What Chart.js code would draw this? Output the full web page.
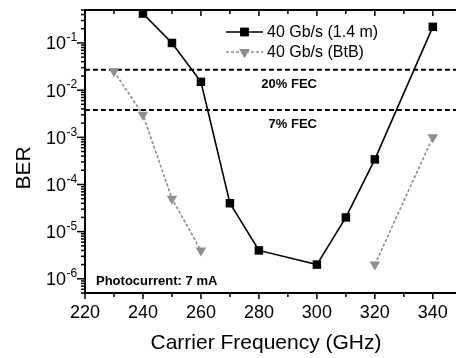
<!DOCTYPE html>
<html>
<head>
<meta charset="utf-8">
<script src="https://cdn.jsdelivr.net/npm/chart.js@4.4.0/dist/chart.umd.min.js"></script>
<style>
  html, body { margin: 0; padding: 0; background: #fff; }
  #wrap { width: 456px; height: 358px; }
</style>
</head>
<body>
<div id="wrap"><canvas id="berChart" width="456" height="358"></canvas></div>
<script>
// measured points, 40 Gb/s over 1.4 m
const freqLong = [240, 250, 260, 270, 280, 300, 310, 320, 340];
const berLong = [0.42, 0.1, 0.015, 4e-5, 4e-6, 2e-6, 2e-5, 3.4e-4, 0.22];

// back-to-back, gap between 260 and 320
const freqBtb = [230, 240, 250, 260, 290, 320, 340];
const berBtb = [0.025, 3e-3, 5e-5, 4e-6, null, 2e-6, 1e-3];

// FEC limits
const fecLabels = ['20% FEC', '7% FEC'];
const fecLimits = [2.7e-2, 3.8e-3];

const xTicks = [220, 240, 260, 280, 300, 320, 340];
const yDecades = [-6, -5, -4, -3, -2, -1];

const seriesNames = ['40 Gb/s (1.4 m)', '40 Gb/s (BtB)'];

const X_MIN = 220, X_MAX = 348;
const Y_MIN = 5e-7, Y_MAX = 0.5;
const FONT = "'Liberation Sans', Arial, sans-serif";
const GREY = '#8e8e8e';

Chart.defaults.font.family = FONT;
Chart.defaults.color = '#000';

const toPoints = (xs, ys) => xs.map((x, i) => ({ x: x, y: ys[i] }));

const fecSets = fecLimits.map(v => ({
    data: [{ x: X_MIN, y: v }, { x: X_MAX, y: v }],
    borderColor: '#000',
    borderWidth: 2,
    borderDash: [5, 3],
    pointRadius: 0
}));

// frame, ticks, y labels, legend and notes
const decorations = {
    id: 'decorations',
    afterDraw(chart) {
        const { ctx, chartArea: a, scales: { x, y } } = chart;
        ctx.save();
        ctx.strokeStyle = '#000';
        ctx.fillStyle = '#000';

        // top border
        ctx.lineWidth = 2;
        ctx.beginPath();
        ctx.moveTo(a.left - 1, a.top);
        ctx.lineTo(a.right, a.top);
        ctx.stroke();

        // x tick marks (bottom outward, top inward)
        ctx.lineWidth = 1.5;
        for (let v = X_MIN; v <= X_MAX; v += 10) {
            const px = x.getPixelForValue(v);
            const len = v % 20 === 0 ? 6 : 4;
            ctx.beginPath();
            ctx.moveTo(px, a.bottom);
            ctx.lineTo(px, a.bottom + len);
            ctx.moveTo(px, a.top);
            ctx.lineTo(px, a.top + len);
            ctx.stroke();
        }

        // y tick marks on log axis
        for (let n = -7; n <= 0; n++) {
            for (let m = 1; m <= 9; m++) {
                const v = m * Math.pow(10, n);
                if (v < Y_MIN || v > Y_MAX) continue;
                const py = y.getPixelForValue(v);
                const len = m === 1 ? 8 : 4;
                ctx.beginPath();
                ctx.moveTo(a.left, py);
                ctx.lineTo(a.left - len, py);
                ctx.stroke();
            }
        }

        // y labels as 10^n
        yDecades.forEach(n => {
            const py = y.getPixelForValue(Math.pow(10, n));
            ctx.textBaseline = 'middle';
            ctx.textAlign = 'right';
            ctx.font = '18px ' + FONT;
            ctx.fillText('10', 66, py + 1.5);
            ctx.textAlign = 'left';
            ctx.font = '12px ' + FONT;
            ctx.fillText(String(n), 66.5, py - 5);
        });

        // axis titles
        ctx.font = '21px ' + FONT;
        ctx.textAlign = 'center';
        ctx.textBaseline = 'middle';
        ctx.fillText('Carrier Frequency (GHz)', 266, 343);
        ctx.save();
        ctx.translate(24, 168);
        ctx.rotate(-Math.PI / 2);
        ctx.fillText('BER', 0, 0);
        ctx.restore();

        // FEC notes
        ctx.font = 'bold 13px ' + FONT;
        ctx.textAlign = 'right';
        ctx.fillText(fecLabels[0], 317, 84);
        ctx.fillText(fecLabels[1], 317, 124);
        ctx.textAlign = 'left';
        ctx.fillText('Photocurrent: 7 mA', 96, 281);

        // legend
        const rows = [
            { y: 32, ds: chart.data.datasets[0] },
            { y: 52, ds: chart.data.datasets[1] }
        ];
        rows.forEach((r, i) => {
            ctx.strokeStyle = r.ds.borderColor;
            ctx.lineWidth = r.ds.borderWidth;
            ctx.setLineDash(r.ds.borderDash || []);
            ctx.beginPath();
            ctx.moveTo(226, r.y);
            ctx.lineTo(263, r.y);
            ctx.stroke();
            ctx.setLineDash([]);
            ctx.fillStyle = r.ds.pointBackgroundColor;
            Chart.helpers.drawPoint(ctx, {
                pointStyle: r.ds.pointStyle,
                radius: r.ds.pointRadius,
                rotation: r.ds.pointRotation || 0,
                borderWidth: 0
            }, 244.5, r.y);
            ctx.fill();
            ctx.fillStyle = '#000';
            ctx.font = '16px ' + FONT;
            ctx.textAlign = 'left';
            ctx.textBaseline = 'middle';
            ctx.fillText(seriesNames[i], 267, r.y + 1);
        });
        ctx.restore();
    }
};

new Chart(document.getElementById('berChart'), {
    type: 'line',
    data: {
        datasets: [
            {
                label: seriesNames[0],
                data: toPoints(freqLong, berLong),
                borderColor: '#000',
                borderWidth: 1.6,
                pointStyle: 'rect',
                pointRadius: 6,
                pointBackgroundColor: '#000',
                pointBorderWidth: 0,
                clip: false
            },
            {
                label: seriesNames[1],
                data: toPoints(freqBtb, berBtb),
                borderColor: GREY,
                borderWidth: 1.6,
                borderDash: [3, 2],
                pointStyle: 'triangle',
                pointRotation: 180,
                pointRadius: 6,
                pointBackgroundColor: GREY,
                pointBorderWidth: 0,
                spanGaps: false,
                clip: false
            },
            ...fecSets
        ]
    },
    options: {
        responsive: false,
        animation: false,
        devicePixelRatio: 1,
        layout: {
            autoPadding: false,
            padding: { top: 10, right: 0, bottom: 0, left: 0 }
        },
        plugins: {
            legend: { display: false },
            tooltip: { enabled: false }
        },
        scales: {
            x: {
                type: 'linear',
                min: X_MIN,
                max: X_MAX,
                afterBuildTicks: s => { s.ticks = xTicks.map(v => ({ value: v })); },
                afterFit: s => {
                    s.height = 65;
                    s.paddingLeft = 0;
                    s.paddingRight = 0;
                },
                grid: { display: false, drawTicks: false },
                border: { display: true, width: 2, color: '#000' },
                ticks: {
                    font: { size: 18 },
                    color: '#000',
                    padding: 9,
                    maxRotation: 0,
                    autoSkip: false
                }
            },
            y: {
                type: 'logarithmic',
                min: Y_MIN,
                max: Y_MAX,
                afterFit: s => { s.width = 85; },
                grid: { display: false, drawTicks: false },
                border: { display: true, width: 2, color: '#000' },
                ticks: { display: false }
            }
        }
    },
    plugins: [decorations]
});
</script>
</body>
</html>
